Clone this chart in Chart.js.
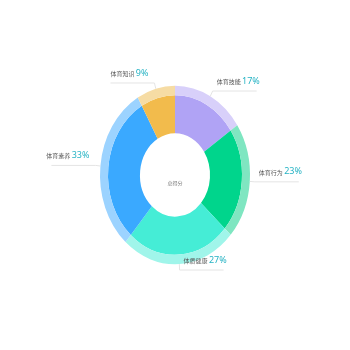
<!DOCTYPE html>
<html>
<head>
<meta charset="utf-8">
<script src="https://cdn.jsdelivr.net/npm/chart.js@4"></script>
<style>
  html, body { margin: 0; padding: 0; background: #fff; }
  #wrap { width: 350px; height: 350px; }
</style>
</head>
<body>
<div id="wrap"><canvas id="scoreChart" width="350" height="350"></canvas></div>
<script>
// chart data
const categories = ["体育技能", "体育行为", "体质健康", "体育素养", "体育知识"];
const percents = [17, 23, 27, 33, 9];
const mainColors = ["#b0a3f5", "#00d58c", "#45edd6", "#3aa9ff", "#f2bb4c"];
const haloColors = ["#d8d0fa", "#7fe6c1", "#a0f5ea", "#9cd3ff", "#f6dca4"];
const centerText = "总得分";

// stretch the rings vertically, the reference pie is an ellipse
const yStretch = 1.19;

const ellipsePlugin = {
  id: "ellipse",
  beforeDatasetsDraw(chart) {
    const meta = chart.getDatasetMeta(0);
    const cx = meta.data[0].x, cy = meta.data[0].y;
    const ctx = chart.ctx;
    ctx.save();
    ctx.translate(cx, cy);
    ctx.scale(1, yStretch);
    ctx.translate(-cx, -cy);
  },
  afterDatasetsDraw(chart) {
    chart.ctx.restore();
  }
};

// leader lines + labels, drawn in unscaled coords
const labelPlugin = {
  id: "pieLabels",
  afterDraw(chart) {
    const ctx = chart.ctx;
    const meta = chart.getDatasetMeta(0);
    meta.data.forEach((arc, i) => {
      const mid = (arc.startAngle + arc.endAngle) / 2;
      const r = arc.outerRadius;
      const ax = arc.x + Math.cos(mid) * r;
      const ay = arc.y + Math.sin(mid) * r * yStretch;
      const ex = arc.x + Math.cos(mid) * (r + 5);
      const ey = arc.y + Math.sin(mid) * (r + 5) * yStretch;
      const right = Math.cos(mid) >= -0.05;
      const len = 44;
      const hx = right ? ex + len : ex - len;

      ctx.save();
      ctx.strokeStyle = "#e4e4e4";
      ctx.lineWidth = 1;
      ctx.beginPath();
      ctx.moveTo(ax, ay);
      ctx.lineTo(ex, ey);
      ctx.lineTo(hx, ey);
      ctx.stroke();

      const name = categories[i] + " ";
      const pct = percents[i] + "%";
      ctx.textBaseline = "middle";
      ctx.font = "6px 'Noto Sans CJK SC'";
      const wName = ctx.measureText(name).width;
      ctx.font = "9px 'Noto Sans'";
      const wPct = ctx.measureText(pct).width;
      const ty = ey - 10;
      let tx = right ? ex + 4 : ex - 6 - wName - wPct;

      ctx.textAlign = "left";
      ctx.font = "6px 'Noto Sans CJK SC'";
      ctx.fillStyle = "#555";
      ctx.fillText(name, tx, ty + 0.5);
      ctx.font = "9px 'Noto Sans'";
      ctx.fillStyle = "#26b3c4";
      ctx.fillText(pct, tx + wName, ty);
      ctx.restore();
    });

    const a0 = meta.data[0];
    ctx.save();
    ctx.font = "5px 'Noto Sans CJK SC'";
    ctx.fillStyle = "#777";
    ctx.textAlign = "center";
    ctx.textBaseline = "middle";
    ctx.fillText(centerText, a0.x, a0.y + 8);
    ctx.restore();
  }
};

const ctx = document.getElementById("scoreChart");

new Chart(ctx, {
  type: "doughnut",
  data: {
    labels: categories,
    datasets: [
      {
        data: percents,
        backgroundColor: haloColors,
        borderWidth: 0,
        weight: 1
      },
      {
        data: percents,
        backgroundColor: mainColors,
        borderWidth: 0,
        weight: 4
      }
    ]
  },
  options: {
    responsive: false,
    animation: false,
    cutout: "46.7%",
    layout: {
      padding: { left: 100, right: 100, top: 100, bottom: 100 }
    },
    plugins: {
      legend: { display: false },
      tooltip: { enabled: false }
    }
  },
  plugins: [ellipsePlugin, labelPlugin]
});
</script>
</body>
</html>
